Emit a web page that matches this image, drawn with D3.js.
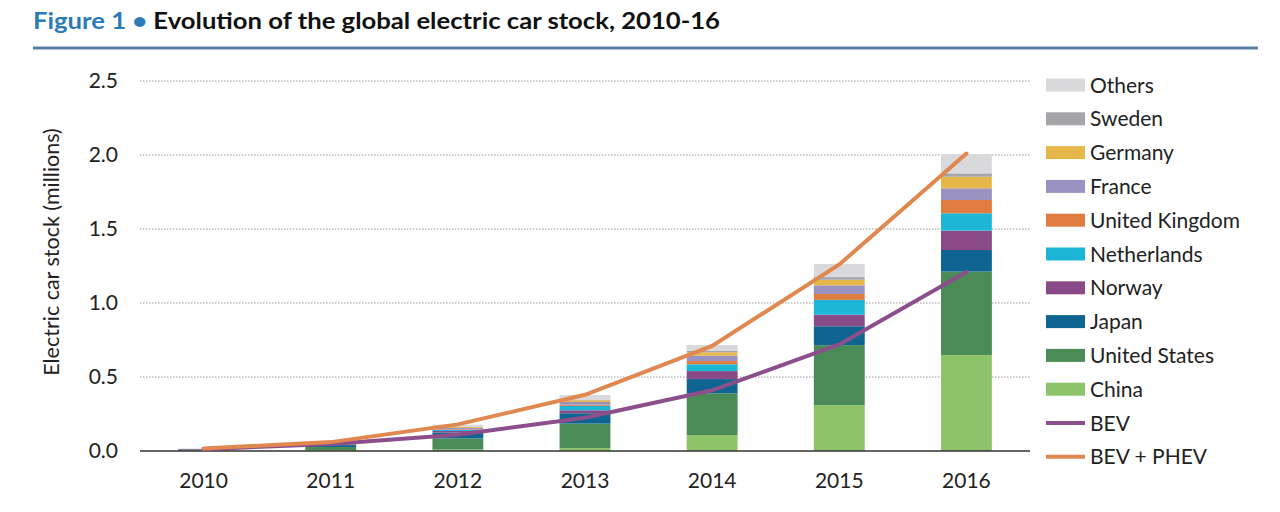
<!DOCTYPE html>
<html><head><meta charset="utf-8">
<script src="https://cdn.jsdelivr.net/npm/d3@7"></script>
<style>
html,body{margin:0;padding:0;background:#fff;}
svg{display:block;font-family:Lato,"Open Sans",sans-serif;}
</style></head>
<body>
<svg id="chart" width="1280" height="512"></svg>
<script>
const years = ["2010","2011","2012","2013","2014","2015","2016"];
const countries = ["China","United States","Japan","Norway","Netherlands","United Kingdom","France","Germany","Sweden","Others"];
const china       = [0.002, 0.007, 0.010, 0.020, 0.108, 0.310, 0.649];
const unitedStates= [0.004, 0.020, 0.075, 0.165, 0.282, 0.405, 0.563];
const japan       = [0.004, 0.013, 0.040, 0.070, 0.096, 0.128, 0.146];
const norway      = [0.003, 0.005, 0.010, 0.020, 0.054, 0.078, 0.131];
const netherlands = [0.000, 0.001, 0.007, 0.030, 0.046, 0.100, 0.117];
const unitedKingdom=[0.001, 0.001, 0.004, 0.008, 0.022, 0.040, 0.090];
const france      = [0.000, 0.003, 0.010, 0.018, 0.036, 0.058, 0.079];
const germany     = [0.000, 0.002, 0.006, 0.012, 0.023, 0.038, 0.078];
const sweden      = [0.000, 0.001, 0.001, 0.004, 0.009, 0.018, 0.023];
const others      = [0.003, 0.006, 0.015, 0.031, 0.040, 0.089, 0.131];
const bev         = [0.012, 0.048, 0.110, 0.225, 0.410, 0.720, 1.210];
const bevPhev     = [0.017, 0.060, 0.180, 0.380, 0.710, 1.260, 2.010];
const yTicks = [0, 0.5, 1.0, 1.5, 2.0, 2.5];

const seriesValues = [china, unitedStates, japan, norway, netherlands, unitedKingdom, france, germany, sweden, others];
const colors = {
  "China":"#8dc46b","United States":"#4b8b57","Japan":"#0f6591","Norway":"#8a4a87",
  "Netherlands":"#1db6d7","United Kingdom":"#e07c40","France":"#9a92c0","Germany":"#e6b84b",
  "Sweden":"#a6a6aa","Others":"#d9d9db"
};
const lineColors = {"BEV":"#8b4f8b","BEV + PHEV":"#e0884f"};

const rows = years.map((y,i)=>{const r={year:y}; countries.forEach((c,k)=>r[c]=seriesValues[k][i]); return r;});

const svg = d3.select("#chart");
const L=140, R=1030, T=81, B=451;
const x = d3.scaleBand().domain(years).range([L,R]).paddingInner(0.6).paddingOuter(0.3);
const y = d3.scaleLinear().domain([0,2.5]).range([B,T]);

// title
const title = svg.append("text").attr("x",33).attr("y",29).attr("font-size",23).attr("font-weight",700)
  .attr("textLength",687).attr("lengthAdjust","spacingAndGlyphs");
title.append("tspan").attr("fill","#2b7bb9").text("Figure 1 • ");
title.append("tspan").attr("fill","#111").text("Evolution of the global electric car stock, 2010-16");
svg.append("line").attr("x1",33).attr("x2",1258).attr("y1",48).attr("y2",48).attr("stroke","#5d7fa5").attr("stroke-width",3);

// grid
svg.append("g").selectAll("line").data(yTicks.filter(d=>d>0)).join("line")
  .attr("x1",L).attr("x2",R).attr("y1",d=>y(d)).attr("y2",d=>y(d))
  .attr("stroke","#9a9a9a").attr("stroke-width",1).attr("stroke-dasharray","1.5,1.5");

// y axis labels
const yAxis = d3.axisLeft(y).tickValues(yTicks).tickFormat(d3.format(".1f")).tickSize(0).tickPadding(22);
const gy = svg.append("g").attr("transform",`translate(${L},0)`).call(yAxis);
gy.select(".domain").remove();
gy.selectAll("text").attr("font-size",21).attr("fill","#222").attr("font-family","Lato,'Open Sans',sans-serif");

svg.append("text").attr("transform",`translate(59,252) rotate(-90)`)
  .attr("text-anchor","middle").attr("font-size",21.5).attr("fill","#222").text("Electric car stock (millions)");

// stacked bars
const stack = d3.stack().keys(countries)(rows);
svg.append("g").selectAll("g").data(stack).join("g").attr("fill",d=>colors[d.key])
  .selectAll("rect").data(d=>d).join("rect")
  .attr("x",d=>x(d.data.year)).attr("width",x.bandwidth())
  .attr("y",d=>y(d[1])).attr("height",d=>Math.max(0,y(d[0])-y(d[1])));

// baseline
svg.append("line").attr("x1",L).attr("x2",R).attr("y1",B).attr("y2",B).attr("stroke","#333").attr("stroke-width",1.5);

// x axis labels
const xAxis = d3.axisBottom(x).tickSize(0).tickPadding(22);
const gx = svg.append("g").attr("transform",`translate(0,${B})`).call(xAxis);
gx.select(".domain").remove();
gx.selectAll("text").attr("font-size",21).attr("fill","#222").attr("font-family","Lato,'Open Sans',sans-serif");

// lines
const line = d3.line().x((d,i)=>x(years[i])+x.bandwidth()/2).y(d=>y(d));
svg.append("path").datum(bev).attr("d",line).attr("fill","none").attr("stroke",lineColors["BEV"]).attr("stroke-width",4).attr("stroke-linecap","round");
svg.append("path").datum(bevPhev).attr("d",line).attr("fill","none").attr("stroke",lineColors["BEV + PHEV"]).attr("stroke-width",4).attr("stroke-linecap","round");

// legend
const legendItems = countries.slice().reverse().map(c=>({name:c,type:"rect",color:colors[c]}))
  .concat([{name:"BEV",type:"line",color:lineColors["BEV"]},{name:"BEV + PHEV",type:"line",color:lineColors["BEV + PHEV"]}]);
const lg = svg.append("g").selectAll("g").data(legendItems).join("g")
  .attr("transform",(d,i)=>`translate(1046,${85+i*33.8})`);
lg.filter(d=>d.type==="rect").append("rect").attr("x",0).attr("y",-6.5).attr("width",39).attr("height",13).attr("fill",d=>d.color);
lg.filter(d=>d.type==="line").append("line").attr("x1",0).attr("x2",39).attr("y1",0).attr("y2",0).attr("stroke",d=>d.color).attr("stroke-width",4);
lg.append("text").attr("x",44).attr("y",7.5).attr("font-size",21).attr("fill","#222").text(d=>d.name);
</script>
</body></html>
